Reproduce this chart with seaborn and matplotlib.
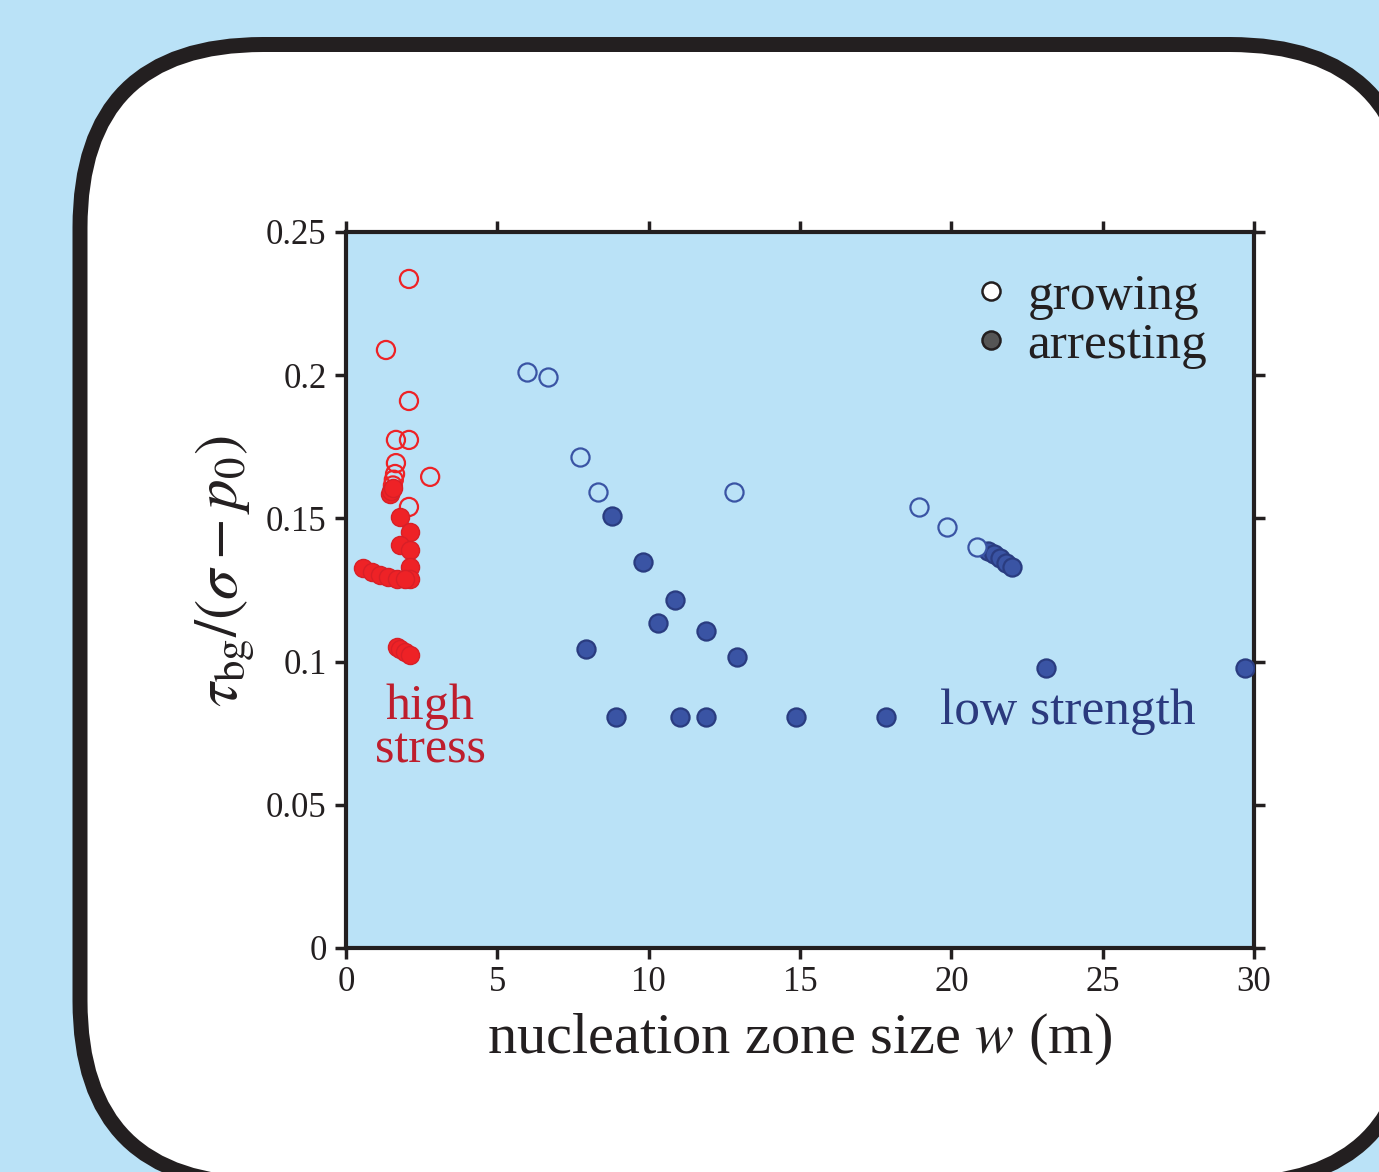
import matplotlib
matplotlib.use("Agg")
import matplotlib.pyplot as plt
import seaborn as sns
import pandas as pd
from matplotlib.patches import FancyBboxPatch
from matplotlib.lines import Line2D

# values
red_open_x = [2.08, 1.32, 2.08, 1.65, 2.08, 1.65, 2.78, 1.62, 1.58, 1.55, 2.08]
red_open_y = [0.2336, 0.2088, 0.191, 0.1774, 0.1774, 0.1693, 0.1645, 0.1655, 0.1635, 0.1615, 0.154]

red_fill_x = [1.45, 1.5, 1.55, 1.78, 2.11, 1.78, 2.11, 2.11, 2.11,
              0.56, 0.85, 1.12, 1.4, 1.7, 1.95, 1.67, 1.8, 1.95, 2.11]
red_fill_y = [0.1585, 0.1595, 0.1605, 0.1506, 0.1454, 0.1407, 0.139, 0.133, 0.129,
              0.1327, 0.1313, 0.1302, 0.1295, 0.129, 0.129, 0.1052, 0.1043, 0.1033, 0.1023]

blue_open_x = [5.98, 6.67, 7.73, 8.33, 12.82, 18.93, 19.85, 20.85]
blue_open_y = [0.2011, 0.1994, 0.1714, 0.1592, 0.1592, 0.154, 0.147, 0.140]

blue_fill_x = [8.79, 9.81, 10.87, 10.31, 11.89, 12.92, 7.93, 8.92, 11.03, 11.89,
               14.87, 17.84, 23.13, 29.7, 21.2, 21.4, 21.6, 21.8, 22.0]
blue_fill_y = [0.1508, 0.1348, 0.1215, 0.1135, 0.1107, 0.1016, 0.1044, 0.0807, 0.0807, 0.0807,
               0.0807, 0.0807, 0.0978, 0.0978, 0.1385, 0.1375, 0.136, 0.1345, 0.1330]

x_ticks = [0, 5, 10, 15, 20, 25, 30]
y_ticks = [0, 0.05, 0.1, 0.15, 0.2, 0.25]
y_tick_labels = ["0", "0.05", "0.1", "0.15", "0.2", "0.25"]

BG = "#BAE2F7"
RED = "#EE2226"
RED_TXT = "#BE1E2D"
BLUE = "#3A54A4"
BLUE_EDGE = "#2A3C80"
BLUE_TXT = "#2B3A7E"
INK = "#231F20"

sns.set_style("ticks")
plt.rcParams['font.family'] = ['Liberation Serif', 'DejaVu Serif']
plt.rcParams['mathtext.fontset'] = 'stix'

W, H = 1379, 1172
fig = plt.figure(figsize=(W / 100, H / 100), dpi=100)
fig.patch.set_facecolor(BG)

# rounded white panel drawn in pixel coordinates
bg_ax = fig.add_axes([0, 0, 1, 1], zorder=0)
bg_ax.set_xlim(0, W)
bg_ax.set_ylim(H, 0)
bg_ax.axis("off")
panel = FancyBboxPatch((80, 44.5), 1413 - 80, 1184 - 44.5,
                       boxstyle="round,pad=0,rounding_size=183",
                       facecolor="white", edgecolor=INK, linewidth=10.8,
                       clip_on=False)
bg_ax.add_patch(panel)

ax = fig.add_axes([346 / W, 1 - 948 / H, (1254 - 346) / W, (948 - 232) / H], zorder=1)
ax.set_facecolor(BG)

red_open = pd.DataFrame({"w": red_open_x, "tau": red_open_y})
red_fill = pd.DataFrame({"w": red_fill_x, "tau": red_fill_y})
blue_open = pd.DataFrame({"w": blue_open_x, "tau": blue_open_y})
blue_fill = pd.DataFrame({"w": blue_fill_x, "tau": blue_fill_y})

ms = 170
sns.scatterplot(data=red_open, x="w", y="tau", ax=ax, s=ms, facecolor="none",
                edgecolor=RED, linewidth=1.6, zorder=3)
sns.scatterplot(data=red_fill, x="w", y="tau", ax=ax, s=ms, color=RED,
                edgecolor="#D81F26", linewidth=1.0, zorder=4)
sns.scatterplot(data=blue_fill, x="w", y="tau", ax=ax, s=ms, color=BLUE,
                edgecolor=BLUE_EDGE, linewidth=1.6, zorder=3)
sns.scatterplot(data=blue_open, x="w", y="tau", ax=ax, s=ms, facecolor=BG,
                edgecolor=BLUE, linewidth=1.6, zorder=4)

ax.set_xlim(0, 30)
ax.set_ylim(0, 0.25)
ax.set_xticks(x_ticks)
ax.set_yticks(y_ticks)
ax.set_yticklabels(y_tick_labels)
ax.tick_params(axis="both", which="both", direction="out", length=8, width=2.5,
               color=INK, labelsize=25, labelcolor=INK, pad=6,
               top=True, right=True, labeltop=False, labelright=False)
ax.tick_params(axis="x", pad=5)
for sp in ax.spines.values():
    sp.set_visible(True)
    sp.set_linewidth(3)
    sp.set_color(INK)

ax.set_xlabel("nucleation zone size $w$ (m)", fontsize=42, color=INK, labelpad=9)
ax.set_ylabel(r"$\tau_{\mathrm{bg}}/(\sigma - p_0)$", fontsize=44, color=INK)
ax.yaxis.set_label_coords(-0.098, 0.527)

ax.text(2.78, 0.0765, "high\nstress", fontsize=36, color=RED_TXT, ha="center",
        va="center", linespacing=0.92, zorder=5)
ax.text(23.85, 0.0824, "low strength", fontsize=37, color=BLUE_TXT, ha="center",
        va="center", zorder=5)

handles = [
    Line2D([], [], marker="o", linestyle="none", markersize=13, markerfacecolor="white",
           markeredgecolor=INK, markeredgewidth=1.8, label="growing"),
    Line2D([], [], marker="o", linestyle="none", markersize=13, markerfacecolor="#555555",
           markeredgecolor=INK, markeredgewidth=1.8, label="arresting"),
]
ax.legend(handles=handles, loc="upper right", bbox_to_anchor=(0.971, 0.972),
          frameon=False, fontsize=37, handletextpad=0.2, labelspacing=0.05,
          borderaxespad=0, handlelength=1.0, labelcolor=INK)

fig.savefig("out.png", dpi=100, facecolor=BG)
